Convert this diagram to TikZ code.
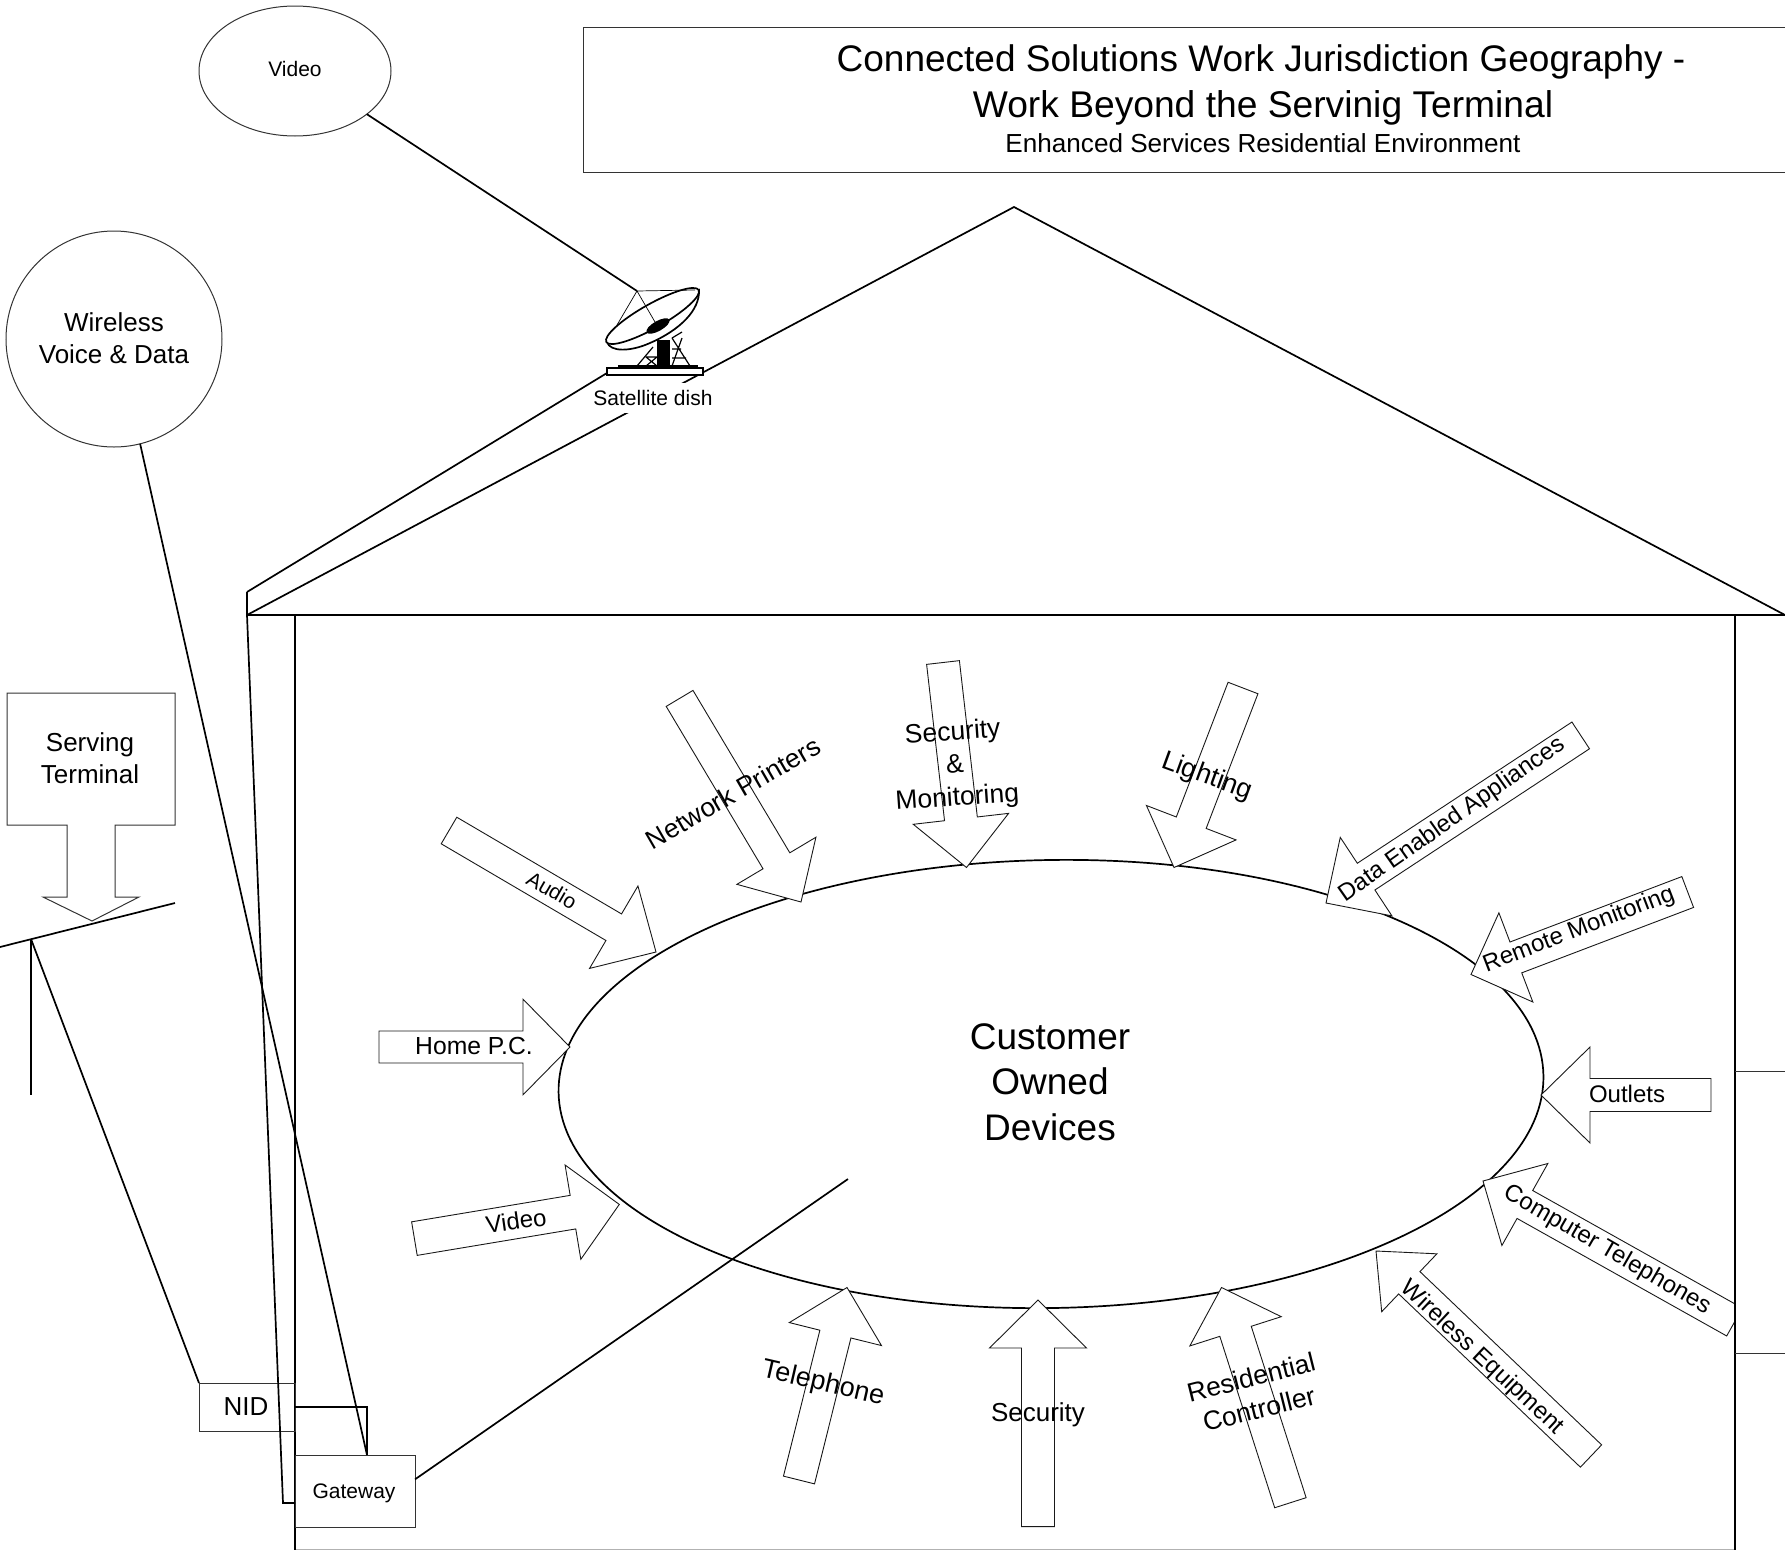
\documentclass[tikz,border=0pt]{standalone}
\usepackage{fontspec}
\setmainfont{Liberation Sans}
\usetikzlibrary{calc, shapes.geometric}
\tikzset{
	x=1pt, y=-1pt, % Un punto por cada pixel, y hacia abajo
	wire/.style={line width=1.7pt, black}, % Lineas gruesas
	box/.style={draw, line width=1pt, black!80, text=black, inner sep=0pt, outer sep=0pt}, % Cajas finas
	thinline/.style={line width=1pt, black!80}, % Lineas finas
	blockline/.style={line width=0.9pt, black!90, fill=white, line join=miter}, % Flechas de bloque
	lab/.style={font=\fontsize{#1}{\the\dimexpr#1pt*123/100\relax}\selectfont, align=center, inner sep=0pt}, % Texto
	lab/.default=24
}
% Flecha de bloque: cola, punta, medio ancho, medio ancho de punta, largo de punta
\newcommand{\blockarrow}[5]{
	\coordinate (base) at ($(#2)!#5pt!(#1)$);
	\draw[blockline] ($(#1)!#3pt!90:(#2)$) -- ($(base)!#3pt!90:(#2)$) -- ($(base)!#4pt!90:(#2)$) -- (#2)
		-- ($(base)!#4pt!-90:(#2)$) -- ($(base)!#3pt!-90:(#2)$) -- ($(#1)!#3pt!-90:(#2)$) -- cycle;
}

\begin{document}
\begin{tikzpicture}
	\useasboundingbox (0,0) rectangle (1785,1550);

	% Titulo
	\draw[thinline] (1785,27) -- (583,27) -- (583,172) -- (1785,172);
	\node[lab=37] (title1) at (1261,62) {Connected Solutions Work Jurisdiction Geography -};
	\node[lab=37.2] (title2) at (1263,108) {Work Beyond the Servinig Terminal};
	\node[lab=26.1] (title3) at (1263,143) {Enhanced Services Residential Environment};

	% Casa
	\coordinate (eavetop) at (247,592);
	\coordinate (eave) at (247,615);
	\coordinate (apex) at (1014,207);
	\coordinate (eaveright) at (1785,615);
	\coordinate (walltop) at (295,615);
	\coordinate (wallfoot) at (295,1550);
	\coordinate (wallright) at (1735,615);
	\coordinate (wallrightfoot) at (1735,1550);
	\coordinate (dishfoot) at (607,373);
	\draw[wire] (eavetop) -- (dishfoot);
	\draw[wire] (eavetop) -- (eave) -- (apex) -- (eaveright) -- (eave);
	\draw[thinline, black!30] (295,1549) -- (1735,1549);

	% Clientes externos
	\node[ellipse, box, minimum width=192, minimum height=130] (video) at (295,71) {};
	\node[lab=21] (videotext) at (295,69) {Video};
	\node[circle, box, minimum size=216] (wireless) at (114,339) {};
	\node[lab=26] (wirelesstext) at (114,338) {Wireless\\Voice \& Data};
	\draw[thinline] (7,693) -- (175,693) -- (175,825) -- (115,825) -- (115,897) -- (139,897) -- (92,921)
		-- (43,897) -- (67,897) -- (67,825) -- (7,825) -- cycle;
	\node[lab=26] (serving) at (90,758) {Serving\\Terminal};

	% Poste
	\coordinate (armleft) at (0,947);
	\coordinate (armright) at (175,903);
	\coordinate (pole) at (31,939);
	\coordinate (polefoot) at (31,1095);
	\draw[wire] (armleft) -- (armright);
	\draw[wire] (pole) -- (polefoot);

	% Dispositivos
	\node[ellipse, draw, wire, minimum width=985, minimum height=448, inner sep=0pt, rotate=1] (owned) at (1051,1084) {};
	\node[lab=37] (ownedtext) at (1050,1082) {Customer\\Owned\\Devices};

	\blockarrow{449,830.5}{656,952}{15.4}{47.8}{49}
	\blockarrow{379,1047}{570,1047}{16}{47.8}{47}
	\blockarrow{414.4,1238.6}{619.3,1204.4}{17}{47.8}{47}
	\blockarrow{679.6,698.4}{801,902}{15.6}{46}{48}
	\blockarrow{943,662.5}{966.5,867.5}{16.5}{48}{49}
	\blockarrow{1243,688}{1174,867.5}{16}{48}{48}
	\blockarrow{1580.7,735.4}{1326,903}{16}{47}{48}
	\blockarrow{1687.7,892}{1471,974.5}{16.5}{47.7}{48}
	\blockarrow{1711,1095}{1541,1095}{16.5}{48}{49}
	\begin{scope}
		\clip (1400,1100) rectangle (1735,1400);
		\blockarrow{1734.5,1322}{1483,1181}{16}{47}{48}
	\end{scope}
	\blockarrow{1591,1456}{1376,1251}{15.4}{40}{46}
	\blockarrow{1290.4,1502.7}{1221.5,1287.5}{16.5}{48}{46}
	\blockarrow{1038,1526.6}{1038,1300}{16.5}{48.5}{48}
	\blockarrow{799,1480}{847,1287.5}{16}{47.5}{48}

	\node[lab=21, rotate=-30] (audio) at (552,890) {Audio};
	\node[lab=24.7] (homepc) at (474,1046) {Home P.C.};
	\node[lab=24, rotate=8] (videoin) at (516,1221) {Video};
	\node[lab=26.5, rotate=30] (printers) at (733,793) {Network Printers};
	\node[lab=26.5, rotate=4] (monitoring) at (955,766) {Security\\\&\\Monitoring};
	\node[lab=27, rotate=-20] (lighting) at (1207,777) {Lighting};
	\node[lab=24, rotate=35] (appliances) at (1452,820) {Data Enabled Appliances};
	\node[lab=24, rotate=21] (remote) at (1579,930) {Remote Monitoring};
	\node[lab=24] (outlets) at (1627,1094) {Outlets};
	\node[lab=24, rotate=-30] (telephones) at (1607,1250) {Computer Telephones};
	\node[lab=24, rotate=-43] (equipment) at (1482,1358) {Wireless Equipment};
	\node[lab=26.5, rotate=14] (controller) at (1255,1393) {Residential\\Controller};
	\node[lab=26] (security) at (1038,1415) {Security};
	\node[lab=27, rotate=-13] (telephone) at (823,1384) {Telephone};

	% Paredes
	\draw[wire] (walltop) -- (wallfoot);
	\draw[wire] (wallright) -- (wallrightfoot);
	\draw[thinline] (1735,1071) -- (1785,1071);
	\draw[thinline] (1735,1353) -- (1785,1353);

	% NID y Gateway
	\node[box, minimum width=96, minimum height=48] (nid) at (247,1407) {};
	\node[lab=26] (nidtext) at (246,1407) {NID};
	\node[box, minimum width=120, minimum height=72] (gateway) at (355,1491) {};
	\node[lab=21] (gatewaytext) at (354,1493) {Gateway};
	\coordinate (gwtop) at (367,1455);
	\coordinate (gwcorner) at (367,1407);
	\coordinate (gwwall) at (295,1407);
	\coordinate (gwend) at (848,1179);
	\coordinate (gwback) at (295,1503);
	\coordinate (gwbackup) at (283,1503);
	\draw[wire] (gwwall) -- (gwcorner) -- (gwtop);
	\draw[wire] (eave) -- (gwbackup) -- (gwback);
	\draw[wire] (gateway.11) -- (gwend);
	\draw[wire] (wireless.-76.5) -- (gwtop);
	\draw[wire] (pole) -- (nid.north west);

	% Antena
	\node[lab=21, fill=white, minimum height=30] (dish) at (653,398) {Satellite dish};
	\coordinate (feed) at (637,291);
	\draw[wire] (video.-31) -- (feed);
	\draw[line width=1.2pt] (637,366) -- (653,347) (646,357) -- (657,357) (646,357) -- (657,366) (646,366) -- (657,357)
		(672,338) -- (690,366) (682,338) -- (672,366) (682,332) -- (672,338) (672,349) -- (681,349) (672,358) -- (686,358);
	\fill (657,340) rectangle (670,367);
	\draw[line width=1.5pt, fill=white] (607,368) rectangle (703,375);
	\draw[line width=1.5pt, fill=white] (619,366) rectangle (697,368);
	\draw[line width=1.7pt, fill=white] (607,342) .. controls (610,352) and (630,352) .. (650,343)
		.. controls (680,330) and (700,310) .. (699,290) -- cycle;
	\draw[line width=1.7pt, fill=white, rotate around={29.4:(652.5,316)}] (652.5,316) ellipse [x radius=53, y radius=12];
	\fill[rotate around={29.4:(658,326)}] (658,326) ellipse [x radius=13, y radius=5];
	\draw[line width=0.7pt] (feed) -- (617,325) (feed) -- (655,322) (feed) -- (695,290);
\end{tikzpicture}
\end{document}
